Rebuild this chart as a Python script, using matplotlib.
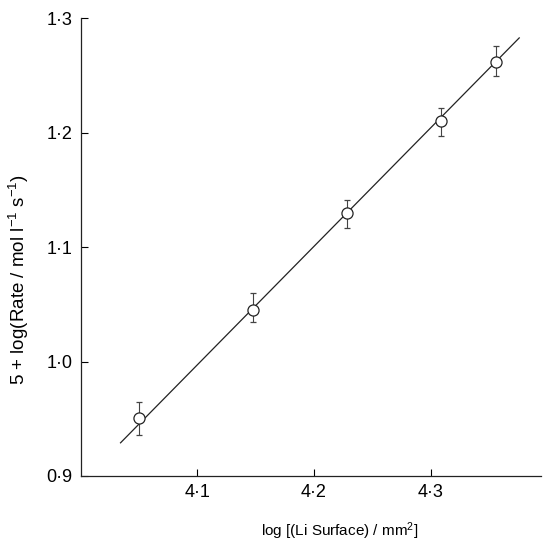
import matplotlib
matplotlib.use("agg")
import matplotlib.pyplot as plt

# measured points: log surface area vs 5 + log rate
x_vals = [4.050, 4.148, 4.228, 4.309, 4.356]
y_vals = [0.951, 1.045, 1.130, 1.210, 1.262]
err_lo = [0.015, 0.010, 0.013, 0.013, 0.012]
err_hi = [0.014, 0.015, 0.011, 0.012, 0.014]

# fitted straight line (end points)
fit_x = [4.034, 4.376]
fit_y = [0.929, 1.283]

x_ticks = [4.1, 4.2, 4.3]
y_ticks = [0.9, 1.0, 1.1, 1.2, 1.3]

plt.rcParams["font.family"] = ["Liberation Sans", "DejaVu Sans"]
plt.rcParams["mathtext.default"] = "regular"

fig = plt.figure(figsize=(5.43, 5.43), dpi=100)
ax = fig.add_axes([0.149, 0.1234, 0.848, 0.8426])

ax.plot(fit_x, fit_y, color="#222222", lw=0.9, zorder=1)
ax.errorbar(x_vals, y_vals, yerr=[err_lo, err_hi], fmt="o", ms=8,
            mfc="white", mec="#222222", mew=0.9, ecolor="#444444",
            elinewidth=0.8, capsize=2.5, capthick=0.8, zorder=2)

ax.set_xlim(4.0, 4.395)
ax.set_ylim(0.9, 1.3)
ax.set_xticks(x_ticks)
ax.set_yticks(y_ticks)
ax.set_xticklabels([f"{v:.1f}".replace(".", "\u00b7") for v in x_ticks])
ax.set_yticklabels([f"{v:.1f}".replace(".", "\u00b7") for v in y_ticks])
ax.tick_params(direction="in", length=5, width=0.8, labelsize=13, pad=6)

for side in ("top", "right"):
    ax.spines[side].set_visible(False)
for side in ("left", "bottom"):
    ax.spines[side].set_linewidth(0.9)
    ax.spines[side].set_color("#222222")

ax.set_xlabel("log [(Li Surface) / mm$^2$]", fontsize=11)
ax.xaxis.set_label_coords(0.563, -0.098)
ax.set_ylabel("5 + log(Rate / mol l$^{-1}$ s$^{-1}$)", fontsize=13.5)
ax.yaxis.set_label_coords(-0.108, 0.43)

fig.savefig("out.png", dpi=100)
